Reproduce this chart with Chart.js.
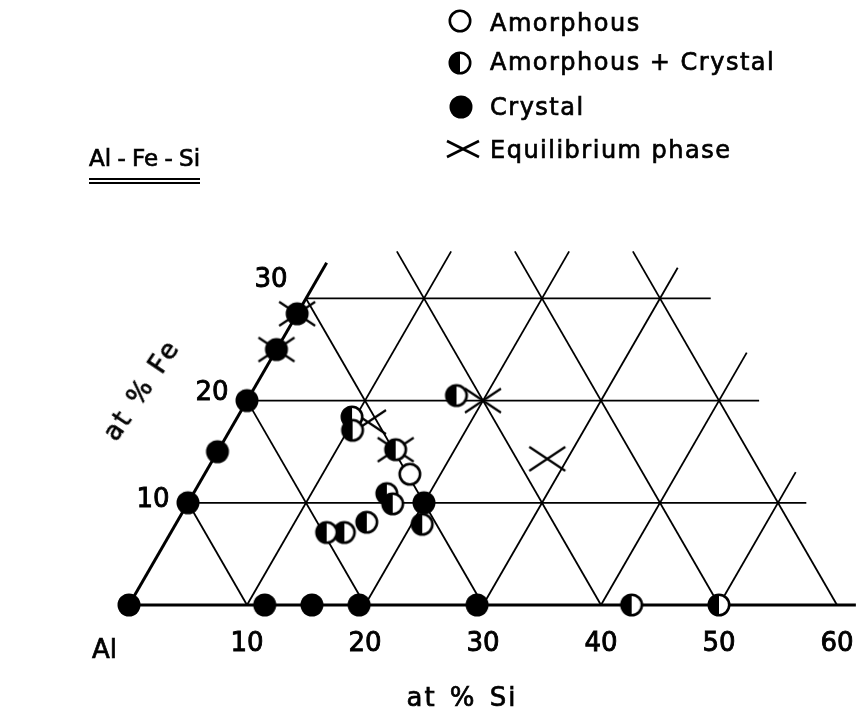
<!DOCTYPE html>
<html>
<head>
<meta charset="utf-8">
<script src="https://cdn.jsdelivr.net/npm/chart.js@4.4.1/dist/chart.umd.min.js"></script>
<style>
  html, body { margin: 0; padding: 0; background: #fff; }
  #wrap { position: relative; width: 860px; height: 713px; font-family: "DejaVu Sans", sans-serif; color: #000; }
  #wrap canvas { position: absolute; left: 0; top: 0; }
  .lbl { position: absolute; white-space: nowrap; line-height: 1; -webkit-text-stroke: 0.7px #000; }
  #title { left: 89px; top: 147px; font-size: 23px; word-spacing: -1px; padding-bottom: 8px; border-bottom: 6px double #000; }
  .legend { left: 490px; font-size: 24px; letter-spacing: 1.5px; }
  #siTitle { left: 462px; top: 684px; font-size: 26px; letter-spacing: 2px; word-spacing: 3px; transform: translateX(-50%); }
  #alLabel { left: 92px; top: 636px; font-size: 26px; }
  #feTitle { left: 141px; top: 390px; font-size: 26px; letter-spacing: 2px; word-spacing: 2px; transform: translate(-50%, -50%) rotate(-56deg); }
</style>
</head>
<body>
<div id="wrap">
  <canvas id="ternary" width="860" height="713"></canvas>
  <div class="lbl" id="title">Al - Fe - Si</div>
  <div class="lbl legend" style="top:11px">Amorphous</div>
  <div class="lbl legend" style="top:50px">Amorphous + Crystal</div>
  <div class="lbl legend" style="top:95px">Crystal</div>
  <div class="lbl legend" style="top:138px">Equilibrium phase</div>
  <div class="lbl" id="alLabel">Al</div>
  <div class="lbl" id="siTitle">at % Si</div>
  <div class="lbl" id="feTitle">at % Fe</div>
</div>
<script>
const siTicks = [10, 20, 30, 40, 50, 60];
const feTicks = [10, 20, 30];

// compositions in at % Si / at % Fe, balance Al
const crystalSi = [0, 0, 0, 0, 0, 0, 11.5, 15.5, 19.5, 29.5, 20];
const crystalFe = [0, 10, 15, 20, 25, 28.5, 0, 0, 0, 0, 10];
const mixedSi = [17.5, 9.7, 10.4, 15, 16.4, 17.4, 16.1, 14.7, 13.2, 20.9, 42.6, 50];
const mixedFe = [20.5, 18.4, 17.1, 15.2, 10.9, 9.9, 8.1, 7.1, 7.1, 7.9, 0, 0];
const amorphousSi = [17.4];
const amorphousFe = [12.8];
const equilibriumSi = [0, 0, 11.3, 15, 20, 28.3];
const equilibriumFe = [25, 28.5, 17.9, 15.2, 20, 14.3];

// how far the grid lines run
const feRows = [0, 10, 20, 30];
const feRowEndSi = [61.6, 52.4, 43.4, 34.3];
const siCols = [0, 10, 20, 30, 40, 50];
const siColTopFe = [33.5, 34.6, 34.6, 33, 24.7, 13];
const alDiags = [10, 20, 30, 40, 50, 60];
const alDiagTopFe = [10, 20, 30, 34.6, 34.6, 34.6];

// ternary -> cartesian (x = Si + Fe/2, y = Fe, y scale squeezed by sin 60)
function tern(si, fe) {
  return { x: si + fe / 2, y: fe };
}
function points(siArr, feArr) {
  return siArr.map((s, i) => tern(s, feArr[i]));
}

function makeSymbol(w, h, draw) {
  const c = document.createElement("canvas");
  c.width = w;
  c.height = h;
  const g = c.getContext("2d");
  draw(g, w / 2, h / 2);
  return c;
}
const R = 11.5;
const filledDot = makeSymbol(26, 26, (g, cx, cy) => {
  g.beginPath();
  g.arc(cx, cy, R, 0, Math.PI * 2);
  g.fillStyle = "#000";
  g.fill();
});
const openDot = makeSymbol(26, 26, (g, cx, cy) => {
  g.beginPath();
  g.arc(cx, cy, R - 1.3, 0, Math.PI * 2);
  g.fillStyle = "#fff";
  g.fill();
  g.lineWidth = 2.6;
  g.strokeStyle = "#000";
  g.stroke();
});
const halfDot = makeSymbol(26, 26, (g, cx, cy) => {
  g.beginPath();
  g.arc(cx, cy, R - 1.3, 0, Math.PI * 2);
  g.fillStyle = "#fff";
  g.fill();
  g.beginPath();
  g.arc(cx, cy, R - 1.3, Math.PI / 2, Math.PI * 1.5);
  g.closePath();
  g.fillStyle = "#000";
  g.fill();
  g.beginPath();
  g.arc(cx, cy, R - 1.3, 0, Math.PI * 2);
  g.lineWidth = 2.6;
  g.strokeStyle = "#000";
  g.stroke();
});
const crossMark = makeSymbol(40, 28, (g) => {
  g.strokeStyle = "#000";
  g.lineWidth = 2.2;
  g.beginPath();
  g.moveTo(2, 2);
  g.lineTo(38, 26);
  g.moveTo(2, 26);
  g.lineTo(38, 2);
  g.stroke();
});
const legendCross = makeSymbol(36, 22, (g) => {
  g.strokeStyle = "#000";
  g.lineWidth = 2.6;
  g.beginPath();
  g.moveTo(2, 3);
  g.lineTo(34, 19);
  g.moveTo(2, 19);
  g.lineTo(34, 3);
  g.stroke();
});

// grid segments
const gridSets = [];
function addLine(a, b, width) {
  gridSets.push({
    data: [a, b],
    showLine: true,
    borderColor: "#000",
    borderWidth: width,
    pointRadius: 0,
    clip: false,
    order: 3,
  });
}
feRows.forEach((fe, i) => addLine(tern(0, fe), tern(feRowEndSi[i], fe), fe === 0 ? 3 : 1.8));
siCols.forEach((si, i) => addLine(tern(si, 0), tern(si, siColTopFe[i]), si === 0 ? 3 : 1.8));
alDiags.forEach((c, i) => addLine(tern(c - alDiagTopFe[i], alDiagTopFe[i]), tern(c, 0), 1.8));

// pixel frame: Al corner at (129, 605), 11.8 px per at %
const PX = 11.8;
const PY = PX * Math.sin(Math.PI / 3);
const pad = 5;
const xMin = -(129 - pad) / PX;
const xMax = xMin + (860 - 2 * pad) / PX;
const yMin = -(713 - pad - 605) / PY;
const yMax = yMin + (713 - 2 * pad) / PY;

const labelsPlugin = {
  id: "ternaryLabels",
  afterDraw(chart) {
    const { ctx } = chart;
    const x = chart.scales.x;
    const y = chart.scales.y;
    ctx.save();
    ctx.fillStyle = "#000";
    ctx.strokeStyle = "#000";
    ctx.lineWidth = 0.9;
    ctx.font = '26px "DejaVu Sans"';
    ctx.textAlign = "center";
    ctx.textBaseline = "alphabetic";
    siTicks.forEach((v) => {
      const px = x.getPixelForValue(v);
      ctx.fillText(String(v), px, 651);
      ctx.strokeText(String(v), px, 651);
    });
    const feShift = [[-35, -5], [-35, -10], [-35, -21]];
    feTicks.forEach((v, i) => {
      const p = tern(0, v);
      const px = x.getPixelForValue(p.x) + feShift[i][0];
      const py = y.getPixelForValue(p.y) + feShift[i][1] + 9.5;
      ctx.fillText(String(v), px, py);
      ctx.strokeText(String(v), px, py);
    });
    // legend symbols
    ctx.drawImage(openDot, 460 - 13, 21 - 13);
    ctx.drawImage(halfDot, 460 - 13, 63 - 13);
    ctx.drawImage(filledDot, 461 - 13, 107 - 13);
    ctx.drawImage(legendCross, 463 - 18, 149 - 11);
    ctx.restore();
  },
};

const ctx = document.getElementById("ternary");
const chart = new Chart(ctx, {
  type: "scatter",
  data: {
    datasets: [
      { label: "Crystal", data: points(crystalSi, crystalFe), pointStyle: filledDot, pointRadius: R, order: 1 },
      { label: "Amorphous + Crystal", data: points(mixedSi, mixedFe), pointStyle: halfDot, pointRadius: R, order: 1 },
      { label: "Amorphous", data: points(amorphousSi, amorphousFe), pointStyle: openDot, pointRadius: R, order: 1 },
      { label: "Equilibrium phase", data: points(equilibriumSi, equilibriumFe), pointStyle: crossMark, pointRadius: R, order: 2 },
      ...gridSets,
    ],
  },
  options: {
    responsive: false,
    animation: false,
    devicePixelRatio: 1,
    layout: { padding: pad, autoPadding: false },
    scales: {
      x: { type: "linear", display: false, min: xMin, max: xMax },
      y: { type: "linear", display: false, min: yMin, max: yMax },
    },
    plugins: {
      legend: { display: false },
      tooltip: { enabled: false },
    },
  },
  plugins: [labelsPlugin],
});
</script>
</body>
</html>
